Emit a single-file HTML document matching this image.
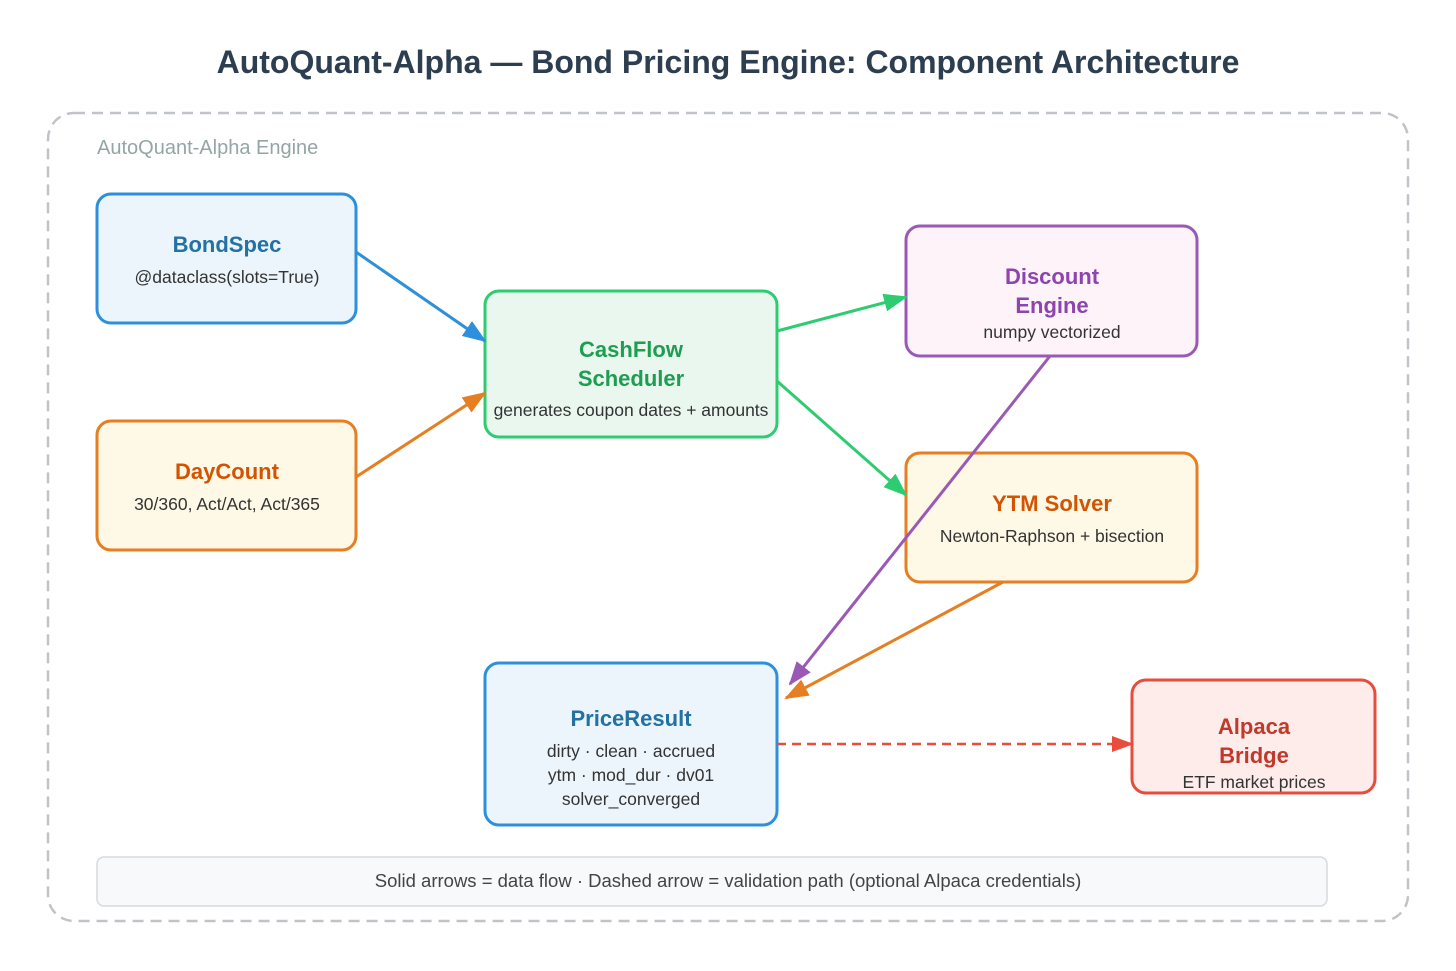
<!DOCTYPE html>
<html><head><meta charset="utf-8"><style>
html,body{margin:0;padding:0;background:#fff;}
svg{display:block;font-family:"Liberation Sans","DejaVu Sans",sans-serif;}
</style></head><body>
<svg width="1456" height="971" viewBox="0 0 1456 971" xmlns="http://www.w3.org/2000/svg">
<defs>
<marker id="mb" markerUnits="userSpaceOnUse" markerWidth="24" markerHeight="18" refX="22" refY="9" orient="auto"><path d="M0,0 L24,9 L0,18 z" fill="#2e8fdb"/></marker>
<marker id="mo" markerUnits="userSpaceOnUse" markerWidth="24" markerHeight="18" refX="22" refY="9" orient="auto"><path d="M0,0 L24,9 L0,18 z" fill="#e67e22"/></marker>
<marker id="mg" markerUnits="userSpaceOnUse" markerWidth="24" markerHeight="18" refX="22" refY="9" orient="auto"><path d="M0,0 L24,9 L0,18 z" fill="#2ecc71"/></marker>
<marker id="mp" markerUnits="userSpaceOnUse" markerWidth="24" markerHeight="18" refX="22" refY="9" orient="auto"><path d="M0,0 L24,9 L0,18 z" fill="#9b59b6"/></marker>
<marker id="mr" markerUnits="userSpaceOnUse" markerWidth="22" markerHeight="16" refX="20" refY="8" orient="auto"><path d="M0,0 L22,8 L0,16 z" fill="#e74c3c"/></marker>
</defs>
<text x="728" y="73" text-anchor="middle" font-size="32" font-weight="bold" fill="#2c3e50">AutoQuant-Alpha — Bond Pricing Engine: Component Architecture</text>
<rect x="48" y="113" width="1360" height="808" rx="26" fill="none" stroke="#c0c4c8" stroke-width="2.5" stroke-dasharray="11,7"/>
<text x="97" y="154" font-size="20" fill="#95a5a6">AutoQuant-Alpha Engine</text>

<rect x="97" y="194" width="259" height="129" rx="14" fill="#ebf5fb" stroke="#2e8fdb" stroke-width="3"/>
<text x="227" y="252" text-anchor="middle" font-size="22" font-weight="bold" fill="#2471a3">BondSpec</text>
<text x="227" y="283" text-anchor="middle" font-size="17.5" fill="#333">@dataclass(slots=True)</text>

<rect x="97" y="421" width="259" height="129" rx="14" fill="#fef8e7" stroke="#e67e22" stroke-width="3"/>
<text x="227" y="479" text-anchor="middle" font-size="22" font-weight="bold" fill="#d35400">DayCount</text>
<text x="227" y="510" text-anchor="middle" font-size="17.5" fill="#333">30/360, Act/Act, Act/365</text>

<rect x="485" y="291" width="292" height="146" rx="14" fill="#e9f7ef" stroke="#2ecc71" stroke-width="3"/>
<text x="631" y="357" text-anchor="middle" font-size="22" font-weight="bold" fill="#1e9e50">CashFlow</text>
<text x="631" y="386" text-anchor="middle" font-size="22" font-weight="bold" fill="#1e9e50">Scheduler</text>
<text x="631" y="416" text-anchor="middle" font-size="17.5" fill="#333">generates coupon dates + amounts</text>

<rect x="906" y="226" width="291" height="130" rx="14" fill="#fdf3f9" stroke="#9b59b6" stroke-width="3"/>
<text x="1052" y="284" text-anchor="middle" font-size="22" font-weight="bold" fill="#8e44ad">Discount</text>
<text x="1052" y="313" text-anchor="middle" font-size="22" font-weight="bold" fill="#8e44ad">Engine</text>
<text x="1052" y="338" text-anchor="middle" font-size="17.5" fill="#333">numpy vectorized</text>

<rect x="906" y="453" width="291" height="129" rx="14" fill="#fef8e7" stroke="#e67e22" stroke-width="3"/>
<text x="1052" y="511" text-anchor="middle" font-size="22" font-weight="bold" fill="#d35400">YTM Solver</text>
<text x="1052" y="542" text-anchor="middle" font-size="17.5" fill="#333">Newton-Raphson + bisection</text>

<rect x="485" y="663" width="292" height="162" rx="14" fill="#ebf5fb" stroke="#2e8fdb" stroke-width="3"/>
<text x="631" y="726" text-anchor="middle" font-size="22" font-weight="bold" fill="#2471a3">PriceResult</text>
<text x="631" y="757" text-anchor="middle" font-size="17.5" fill="#333">dirty · clean · accrued</text>
<text x="631" y="781" text-anchor="middle" font-size="17.5" fill="#333">ytm · mod_dur · dv01</text>
<text x="631" y="805" text-anchor="middle" font-size="17.5" fill="#333">solver_converged</text>

<rect x="1132" y="680" width="243" height="113" rx="14" fill="#fdecea" stroke="#e74c3c" stroke-width="3"/>
<text x="1254" y="734" text-anchor="middle" font-size="22" font-weight="bold" fill="#c0392b">Alpaca</text>
<text x="1254" y="763" text-anchor="middle" font-size="22" font-weight="bold" fill="#c0392b">Bridge</text>
<text x="1254" y="788" text-anchor="middle" font-size="17.5" fill="#333">ETF market prices</text>

<rect x="97" y="857" width="1230" height="49" rx="7" fill="#f7f9fa" stroke="#d5dbdf" stroke-width="1.5"/>
<text x="728" y="887" text-anchor="middle" font-size="18.5" fill="#444">Solid arrows = data flow · Dashed arrow = validation path (optional Alpaca credentials)</text>

<g stroke-width="3" fill="none">
<line x1="356" y1="252" x2="485" y2="341" stroke="#2e8fdb" marker-end="url(#mb)"/>
<line x1="356" y1="477" x2="485" y2="393" stroke="#e67e22" marker-end="url(#mo)"/>
<line x1="777" y1="331" x2="906" y2="297" stroke="#2ecc71" marker-end="url(#mg)"/>
<line x1="777" y1="381" x2="906" y2="495" stroke="#2ecc71" marker-end="url(#mg)"/>
<line x1="1050" y1="356" x2="790" y2="684" stroke="#9b59b6" marker-end="url(#mp)"/>
<line x1="1003" y1="582" x2="786" y2="698" stroke="#e67e22" marker-end="url(#mo)"/>
<line x1="777" y1="744" x2="1132" y2="744" stroke="#e74c3c" stroke-width="2.5" stroke-dasharray="9,6" marker-end="url(#mr)"/>
</g>
</svg>
</body></html>
